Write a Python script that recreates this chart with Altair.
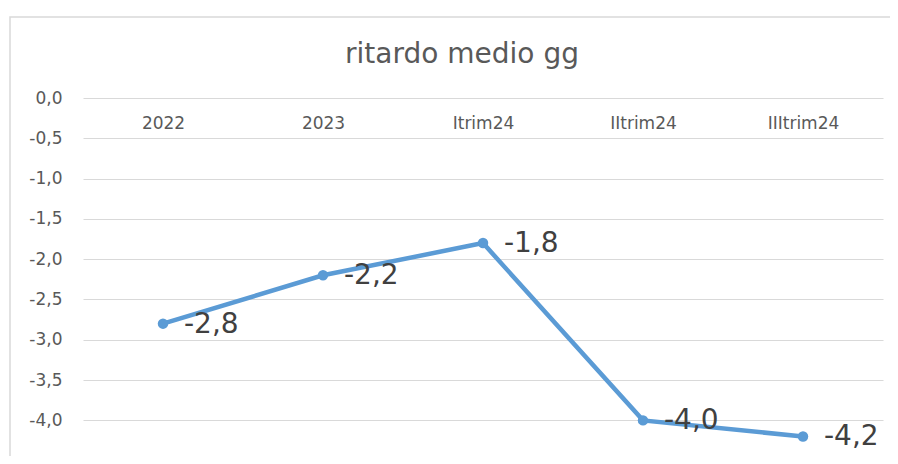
import altair as alt
import pandas as pd

categories = ["2022", "2023", "Itrim24", "IItrim24", "IIItrim24"]
values = [-2.8, -2.2, -1.8, -4.0, -4.2]
y_ticks = [0.0, -0.5, -1.0, -1.5, -2.0, -2.5, -3.0, -3.5, -4.0, -4.5]
title_text = "ritardo medio gg"

df = pd.DataFrame({"cat": categories, "val": values})
one = pd.DataFrame({"t": [title_text]})

FONT = "DejaVu Sans"
W, H = 800, 358
BLUE = "#5b9bd5"

x_enc = alt.X(
    "cat:N",
    sort=categories,
    scale=alt.Scale(type="point", padding=0.5),
    axis=alt.Axis(
        title=None, orient="bottom", offset=-H, domain=False, ticks=False, grid=False,
        labelFont=FONT, labelFontSize=17, labelColor="#595959",
        labelBaseline="middle", labelPadding=25, labelAngle=0,
    ),
)
y_enc = alt.Y(
    "val:Q",
    scale=alt.Scale(domain=[-4.442, 0], nice=False, zero=False),
    axis=alt.Axis(
        title=None, values=y_ticks, format=".1f", domain=False, ticks=False,
        labelFont=FONT, labelFontSize=17, labelColor="#595959", labelPadding=21,
        grid=True, gridColor="#d9d9d9", gridWidth=1,
    ),
)

border = alt.Chart(one).mark_rect(fill="transparent", stroke="#d9d9d9", strokeWidth=1.5).encode(
    x=alt.value(-73), x2=alt.value(1000), y=alt.value(-81), y2=alt.value(1000)
)

title = alt.Chart(one).mark_text(
    font=FONT, fontSize=28, color="#595959", align="center", baseline="alphabetic"
).encode(text="t:N", x=alt.value(379), y=alt.value(-35))

base = alt.Chart(df).encode(x=x_enc, y=y_enc)
line = base.mark_line(color=BLUE, strokeWidth=4.5)
pts = base.mark_point(filled=True, color=BLUE, size=110, opacity=1)
labels = base.mark_text(
    font=FONT, fontSize=28, color="#404040", align="left", baseline="middle", dx=21, dy=1
).encode(text=alt.Text("val:Q", format=".1f"))

chart = alt.layer(border, title, line, pts, labels).properties(
    width=W, height=H,
    autosize=alt.AutoSizeParams(type="none"),
    padding={"left": 75, "top": 90, "right": 7, "bottom": 0},
).configure(
    view=alt.ViewConfig(strokeWidth=0, stroke="transparent"),
    locale={"number": {"decimal": ",", "thousands": ".", "grouping": [3],
                       "currency": ["", " €"], "minus": "-"}},
)

chart.save("out.html", embed_options={"renderer": "svg", "actions": False})
